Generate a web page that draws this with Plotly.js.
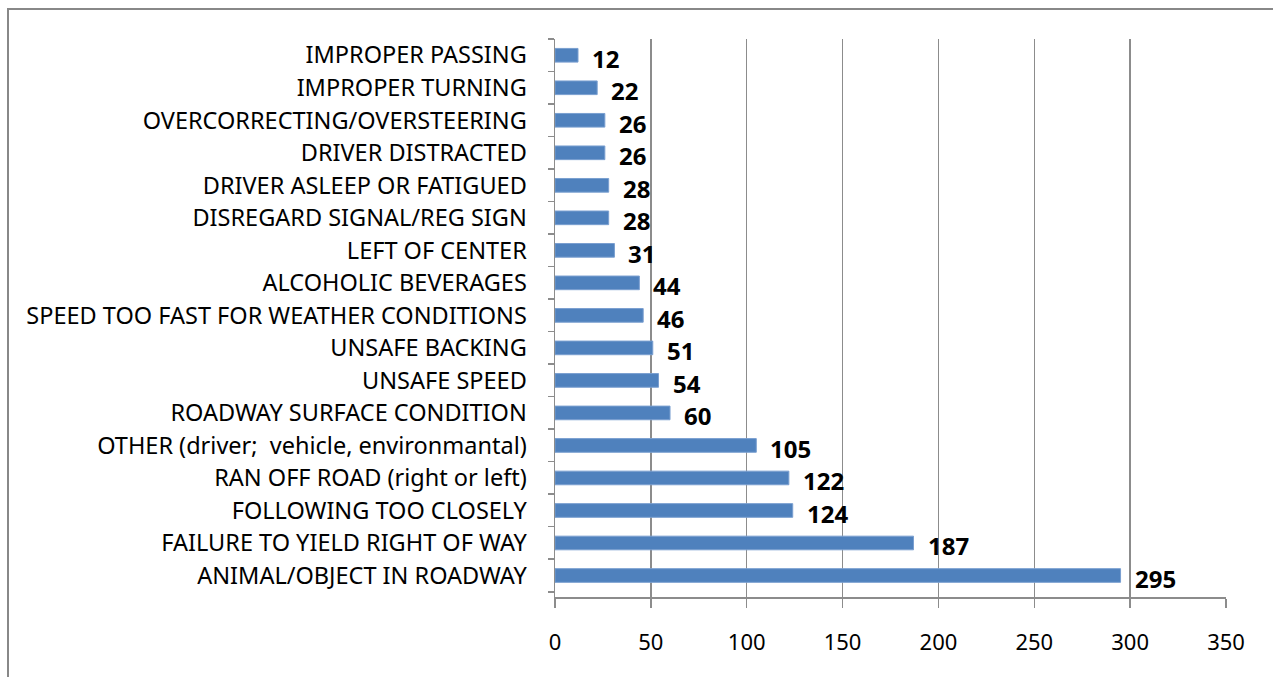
<!DOCTYPE html>
<html><head><meta charset="utf-8">
<script src="https://cdn.plot.ly/plotly-3.0.1.min.js"></script>
<style>
html,body{margin:0;padding:0;background:#fff;overflow:hidden;}
#frame{position:absolute;left:7px;top:8px;width:1400px;height:800px;border:2px solid #888;box-sizing:border-box;}
#chart{position:absolute;left:0;top:0;width:1273px;height:677px;}
</style></head>
<body>
<div id="frame"></div>
<div id="chart"></div>
<script>
const categories = [
  "ANIMAL/OBJECT IN ROADWAY",
  "FAILURE TO YIELD RIGHT OF WAY",
  "FOLLOWING TOO CLOSELY",
  "RAN OFF ROAD (right or left)",
  "OTHER (driver;  vehicle, environmantal)",
  "ROADWAY SURFACE CONDITION",
  "UNSAFE SPEED",
  "UNSAFE BACKING",
  "SPEED TOO FAST FOR WEATHER CONDITIONS",
  "ALCOHOLIC BEVERAGES",
  "LEFT OF CENTER",
  "DISREGARD SIGNAL/REG SIGN",
  "DRIVER ASLEEP OR FATIGUED",
  "DRIVER DISTRACTED",
  "OVERCORRECTING/OVERSTEERING",
  "IMPROPER TURNING",
  "IMPROPER PASSING"
];
const values = [295,187,124,122,105,60,54,51,46,44,31,28,28,26,26,22,12];
const xTicks = [0,50,100,150,200,250,300,350];

const FONT = "Noto Sans, Open Sans, sans-serif";

const trace = {
  type: "bar",
  orientation: "h",
  x: values,
  y: categories,
  marker: {color: "#4F81BD", line: {color: "#7A9FD0", width: 1}},
  hoverinfo: "x+y"
};

const annotations = categories.map((c, i) => ({
  x: values[i], y: c, xref: "x", yref: "y",
  text: "<b>" + values[i] + "</b>",
  showarrow: false, xanchor: "left", yanchor: "middle",
  xshift: 12, yshift: -3,
  font: {family: FONT, size: 24, color: "#000"}
}));

const layout = {
  width: 1273, height: 677,
  paper_bgcolor: "rgba(0,0,0,0)", plot_bgcolor: "rgba(0,0,0,0)",
  margin: {l: 555, r: 47, t: 39, b: 80},
  showlegend: false,
  bargap: 0.58,
  xaxis: {
    range: [0, 350], tickvals: xTicks, ticktext: xTicks.map(String),
    showgrid: true, gridcolor: "#8c8c8c", gridwidth: 1.5,
    showline: true, linecolor: "#8c8c8c", linewidth: 1.5,
    ticks: "outside", ticklen: 9, tickcolor: "#8c8c8c", tickwidth: 1.5,
    ticklabelstandoff: 16,
    zeroline: false,
    tickfont: {family: FONT, size: 22, color: "#000"}
  },
  yaxis: {
    type: "category", categoryorder: "array", categoryarray: categories,
    showline: true, linecolor: "#8c8c8c", linewidth: 1.5,
    ticks: "outside", ticklen: 6, tickcolor: "#8c8c8c", tickwidth: 1.5,
    tickson: "boundaries",
    ticklabelstandoff: 22,
    showgrid: false, zeroline: false,
    tickfont: {family: FONT, size: 23.5, color: "#000"}
  },
  annotations: annotations
};

Plotly.newPlot("chart", [trace], layout, {displayModeBar: false, staticPlot: true});
</script>
</body></html>
